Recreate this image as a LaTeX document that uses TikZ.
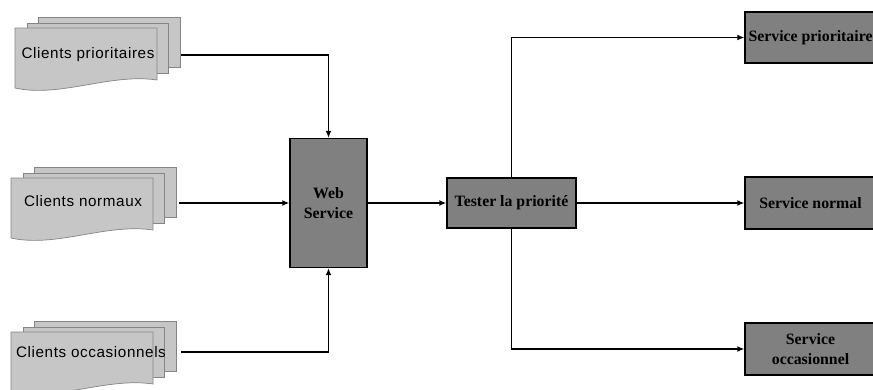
\documentclass[tikz,border=0pt]{standalone}
\usepackage{fontspec}
\setmainfont{Liberation Serif}
\newfontfamily\clientfont{Liberation Sans}[LetterSpace=4.0]
\usetikzlibrary{arrows.meta}
\definecolor{sheetgray}{HTML}{C6C6C6}
\definecolor{sheetline}{HTML}{858585}
\definecolor{boxgray}{HTML}{808080}
\tikzset{
  sheet/.style={draw=sheetline, fill=sheetgray, line width=0.6pt},
  clienttext/.style={font=\clientfont\fontsize{13}{15}\selectfont, inner sep=0pt},
  procbox/.style={draw=black, fill=boxgray, line width=1pt, align=center,
    font=\bfseries\fontsize{13.5}{16.5}\selectfont, inner sep=1pt},
  flow/.style={-{Latex[length=6pt,width=5pt]}, line width=1.2pt}
}
% pile de trois feuilles, coin haut gauche de la feuille avant en (#1,#2)
\newcommand{\clientstack}[2]{%
  \begin{scope}[shift={(#1,#2)}]
    \draw[sheet] (23,-11) rectangle (165,39);
    \draw[sheet] (12,-5) rectangle (153,45);
    \draw[sheet] (0,0) -- (142,0) -- (142,52) .. controls (95,45) and (45,70) .. (0,60) -- cycle;
  \end{scope}}
\begin{document}
\begin{tikzpicture}[x=0.03cm, y=-0.03cm]
  \useasboundingbox (0,0) rectangle (873,389);
  \clip (0,0) rectangle (873,389);
  % clients
  \clientstack{15}{28}
  \clientstack{11}{178}
  \clientstack{11}{332}
  \node[clienttext] (cprio) at (88,55) {Clients prioritaires};
  \node[clienttext] (cnorm) at (83,201) {Clients normaux};
  \node[clienttext] (cocc) at (91,352) {Clients occasionnels};
  \coordinate (cprio-out) at (181,55);
  \coordinate (cnorm-out) at (179,203);
  \coordinate (cocc-out) at (181,352);
  % traitement
  \node[procbox, minimum width=2.31cm, minimum height=3.87cm] (web) at (328.5,203) {Web\\Service};
  \node[procbox, minimum width=3.87cm, minimum height=1.5cm] (tester) at (511.5,203) {Tester la priorité};
  \node[procbox, minimum width=3.93cm, minimum height=1.53cm] (sprio) at (810.5,37.5) {Service prioritaire};
  \node[procbox, minimum width=3.93cm, minimum height=1.56cm] (snorm) at (810.5,203) {Service normal};
  \node[procbox, minimum width=3.93cm, minimum height=1.56cm] (socc) at (810.5,349) {Service\\occasionnel};
  % connexions
  \draw[flow] (cprio-out) -| (web.north);
  \draw[flow] (cnorm-out) -- (web.west);
  \draw[flow] (cocc-out) -| (web.south);
  \draw[flow] (web.east) -- (tester.west);
  \draw[flow] (tester.north) |- (sprio.west);
  \draw[flow] (tester.east) -- (snorm.west);
  \draw[flow] (tester.south) |- (socc.west);
\end{tikzpicture}
\end{document}
